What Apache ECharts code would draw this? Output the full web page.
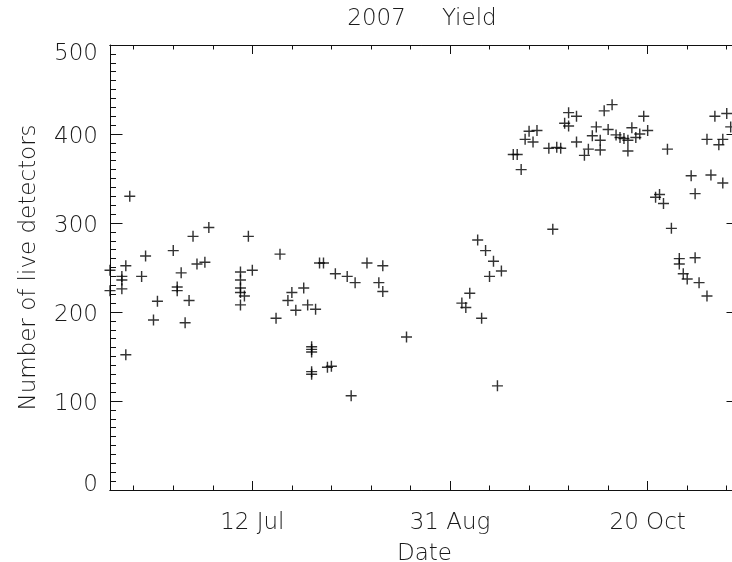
<!DOCTYPE html>
<html>
<head>
<meta charset="utf-8">
<script src="https://cdn.jsdelivr.net/npm/echarts@6/dist/echarts.min.js"></script>
<style>
  html, body { margin: 0; padding: 0; background: #fff; }
  #chart { width: 732px; height: 562px; }
</style>
</head>
<body>
<div id="chart"></div>
<script>
// Days counted from 12 Jul 2007 (negative = before)
const dayOffsets = [
  -36, -36, -33, -33, -33, -32, -32, -31, -28, -27,
  -25, -24, -20, -19, -19, -18, -17, -16, -15, -14,
  -12, -11, -3, -3, -3, -3, -2, -3, -1, 0,
  6, 7, 9, 10, 11, 13, 14, 15, 15, 15,
  15, 15, 16, 17, 18, 19, 20, 21, 24, 25,
  26, 29, 32, 33, 33, 39, 53, 54, 55, 57,
  58, 59, 60, 61, 62, 63, 66, 67, 68, 69,
  70, 71, 72, 75, 76, 77, 78, 79, 80, 80,
  82, 82, 84, 85, 86, 87, 88, 88, 89, 90,
  91, 92, 93, 94, 95, 95, 96, 97, 98, 99,
  100, 102, 103, 104, 105, 106, 108, 108, 109, 110,
  111, 112, 112, 113, 115, 115, 116, 117, 118, 119,
  119, 120, 121
];
const liveDetectors = [
  247, 224, 240, 236, 226, 252, 152, 330, 240, 263,
  191, 212, 269, 228, 224, 244, 188, 213, 285, 254,
  256, 295, 245, 236, 227, 222, 218, 208, 285, 247,
  193, 265, 213, 222, 202, 227, 208, 161, 158, 155,
  133, 130, 203, 255, 255, 138, 139, 243, 240, 106,
  233, 255, 233, 252, 223, 172, 210, 205, 221, 281,
  193, 269, 240, 257, 117, 246, 377, 377, 360, 394,
  403, 391, 404, 384, 293, 385, 384, 412, 409, 424,
  420, 391, 376, 383, 398, 408, 393, 382, 426, 405,
  433, 399, 396, 395, 393, 381, 407, 396, 400, 420,
  404, 329, 332, 322, 383, 294, 260, 254, 243, 237,
  353, 333, 261, 233, 218, 394, 354, 420, 388, 345,
  394, 423, 408
];
const xMajorTickDays = [0, 50, 100];
const xMajorTickLabels = ['12 Jul', '31 Aug', '20 Oct'];
const xMinorTickDays = [-30, -20, -10, 0, 10, 20, 30, 40, 50, 60, 70, 80, 90, 100, 110, 120];
const xRange = [-36, 123.1];
const yRange = [0, 500];

const points = dayOffsets.map((d, i) => [d, liveDetectors[i]]);

const FONT = 'DejaVu Sans';
const INK = '#1a1a1a';
const lineStyle = { color: '#111', width: 1 };
const txt = { fontFamily: FONT, fontSize: 23, fontWeight: 200, color: INK };

function xAxisDef(position, tickValues, tickLen, withLabels) {
  const ax = {
    type: 'value', position: position, min: xRange[0], max: xRange[1],
    axisLine: { show: true, onZero: false, lineStyle: lineStyle },
    axisTick: { show: true, inside: true, length: tickLen, customValues: tickValues, lineStyle: lineStyle },
    splitLine: { show: false },
    axisLabel: { show: false }
  };
  if (withLabels) {
    ax.axisLabel = Object.assign({
      show: true, customValues: xMajorTickDays, margin: 22,
      formatter: function (v) {
        const idx = xMajorTickDays.indexOf(Math.round(v));
        return idx >= 0 ? xMajorTickLabels[idx] : '';
      }
    }, txt);
    ax.name = 'Date';
    ax.nameLocation = 'middle';
    ax.nameGap = 53;
    ax.nameTextStyle = Object.assign({}, txt);
  }
  return ax;
}

function yAxisDef(position, withLabels) {
  const ax = {
    type: 'value', position: position, min: yRange[0], max: yRange[1], interval: 100,
    axisLine: { show: true, onZero: false, lineStyle: lineStyle },
    axisTick: { show: true, inside: true, length: 12.5, lineStyle: lineStyle },
    minorTick: { show: true, splitNumber: 10, length: 6, lineStyle: lineStyle },
    splitLine: { show: false },
    minorSplitLine: { show: false },
    axisLabel: { show: false }
  };
  if (withLabels) {
    ax.axisLabel = Object.assign({
      show: true, margin: 12,
      formatter: function (v) {
        if (v === yRange[1]) return '{top|' + v + '}';
        if (v === yRange[0]) return '{bot|' + v + '}';
        return '{mid|' + v + '}';
      },
      rich: {
        top: Object.assign({ padding: [18, 0, 0, 0] }, txt),
        bot: Object.assign({ padding: [0, 0, 10, 0] }, txt),
        mid: Object.assign({ padding: [6, 0, 0, 0] }, txt)
      }
    }, txt);
    ax.name = 'Number of live detectors';
    ax.nameLocation = 'middle';
    ax.nameRotate = 90;
    ax.nameGap = 69;
    ax.nameTextStyle = Object.assign({}, txt);
  }
  return ax;
}

const chart = echarts.init(document.getElementById('chart'), null, { renderer: 'canvas' });
chart.setOption({
  animation: false,
  backgroundColor: '#fff',
  title: {
    text: '{t|2007}{sp| }{t|Yield}',
    left: 422, top: 8, textAlign: 'center', padding: 0,
    textStyle: Object.assign({
      rich: { t: Object.assign({}, txt), sp: { width: 36, fontSize: 23 } }
    }, txt)
  },
  grid: { left: 110, right: -7, top: 45, bottom: 72, containLabel: false, outerBoundsMode: 'none' },
  xAxis: [
    xAxisDef('bottom', xMinorTickDays, 4.5, true),
    xAxisDef('bottom', xMajorTickDays, 9, false),
    xAxisDef('top', xMinorTickDays, 4.5, false),
    xAxisDef('top', xMajorTickDays, 9, false)
  ],
  yAxis: [
    yAxisDef('left', true),
    yAxisDef('right', false)
  ],
  series: [{
    type: 'scatter',
    xAxisIndex: 0, yAxisIndex: 0,
    data: points,
    symbol: 'path://M0,4.35H10V5.65H0Z M4.35,0H5.65V10H4.35Z',
    symbolSize: 11,
    itemStyle: { color: '#000' },
    clip: false
  }]
});
</script>
</body>
</html>
